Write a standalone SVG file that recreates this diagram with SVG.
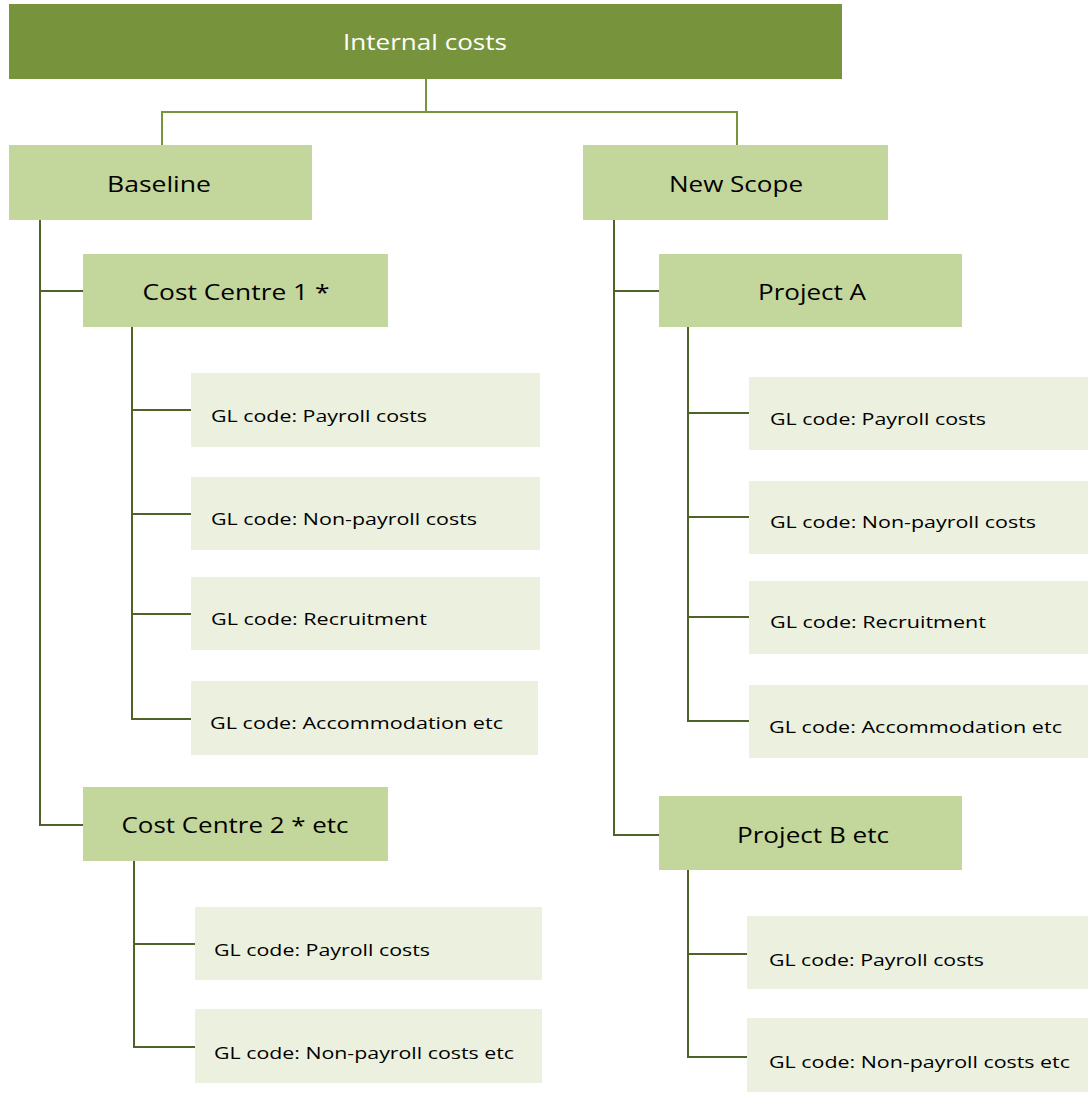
<svg xmlns="http://www.w3.org/2000/svg" width="1088" height="1093" viewBox="0 0 1088 1093">
<style>
.top{fill:#77933C}
.mid{fill:#C3D69B}
.leaf{fill:#EBF1DE}
.t1{font-family:"Open Sans","Liberation Sans",sans-serif;font-size:22px;fill:#ffffff;text-anchor:middle}
.t2{font-family:"Open Sans","Liberation Sans",sans-serif;font-size:22px;fill:#000000;text-anchor:middle}
.t3{font-family:"Open Sans","Liberation Sans",sans-serif;font-size:17px;fill:#000000}
.c1{fill:none;stroke:#77933C;stroke-width:2}
.c2{fill:none;stroke:#4F6228;stroke-width:2}
</style>
<rect width="1088" height="1093" fill="#ffffff"/>
<g id="connectors">
<path class="c1" d="M426 79 V112 H162 V145 M426 112 H737 V145"/>
<path class="c2" d="M40 220 V825 H83 M40 291 H83"/>
<path class="c2" d="M132 327 V719 H191 M132 410 H191 M132 514 H191 M132 614 H191"/>
<path class="c2" d="M134 861 V1047 H195 M134 944 H195"/>
<path class="c2" d="M614 220 V835 H659 M614 291 H659"/>
<path class="c2" d="M688 327 V721 H749 M688 413 H749 M688 517 H749 M688 617 H749"/>
<path class="c2" d="M688 870 V1057 H747 M688 954 H747"/>
</g>
<g id="internal-costs"><rect class="top" x="9" y="4" width="833" height="75"/><text class="t1" x="425" y="50" textLength="164" lengthAdjust="spacingAndGlyphs">Internal costs</text></g>
<g id="baseline"><rect class="mid" x="9" y="145" width="303" height="75"/><text class="t2" x="159" y="192" textLength="104" lengthAdjust="spacingAndGlyphs">Baseline</text></g>
<g id="new-scope"><rect class="mid" x="583" y="145" width="305" height="75"/><text class="t2" x="736" y="192" textLength="134" lengthAdjust="spacingAndGlyphs">New Scope</text></g>
<g id="cost-centre-1"><rect class="mid" x="83" y="254" width="305" height="73"/><text class="t2" x="236" y="300" textLength="187" lengthAdjust="spacingAndGlyphs">Cost Centre 1 *</text></g>
<g id="cost-centre-2"><rect class="mid" x="83" y="787" width="305" height="74"/><text class="t2" x="235" y="833" textLength="227" lengthAdjust="spacingAndGlyphs">Cost Centre 2 * etc</text></g>
<g id="project-a"><rect class="mid" x="659" y="254" width="303" height="73"/><text class="t2" x="812" y="300" textLength="108" lengthAdjust="spacingAndGlyphs">Project A</text></g>
<g id="project-b"><rect class="mid" x="659" y="796" width="303" height="74"/><text class="t2" x="813" y="843" textLength="152" lengthAdjust="spacingAndGlyphs">Project B etc</text></g>
<g id="cc1-payroll"><rect class="leaf" x="191" y="373" width="349" height="74"/><text class="t3" x="211" y="422" textLength="216" lengthAdjust="spacingAndGlyphs">GL code: Payroll costs</text></g>
<g id="cc1-nonpayroll"><rect class="leaf" x="191" y="477" width="349" height="73"/><text class="t3" x="211" y="525" textLength="266" lengthAdjust="spacingAndGlyphs">GL code: Non-payroll costs</text></g>
<g id="cc1-recruitment"><rect class="leaf" x="191" y="577" width="349" height="73"/><text class="t3" x="211" y="625" textLength="216" lengthAdjust="spacingAndGlyphs">GL code: Recruitment</text></g>
<g id="cc1-accommodation"><rect class="leaf" x="191" y="681" width="347" height="74"/><text class="t3" x="210" y="729" textLength="293" lengthAdjust="spacingAndGlyphs">GL code: Accommodation etc</text></g>
<g id="cc2-payroll"><rect class="leaf" x="195" y="907" width="347" height="73"/><text class="t3" x="214" y="956" textLength="216" lengthAdjust="spacingAndGlyphs">GL code: Payroll costs</text></g>
<g id="cc2-nonpayroll"><rect class="leaf" x="195" y="1009" width="347" height="74"/><text class="t3" x="214" y="1059" textLength="300" lengthAdjust="spacingAndGlyphs">GL code: Non-payroll costs etc</text></g>
<g id="pa-payroll"><rect class="leaf" x="749" y="377" width="339" height="73"/><text class="t3" x="770" y="425" textLength="216" lengthAdjust="spacingAndGlyphs">GL code: Payroll costs</text></g>
<g id="pa-nonpayroll"><rect class="leaf" x="749" y="481" width="339" height="73"/><text class="t3" x="770" y="528" textLength="266" lengthAdjust="spacingAndGlyphs">GL code: Non-payroll costs</text></g>
<g id="pa-recruitment"><rect class="leaf" x="749" y="581" width="339" height="73"/><text class="t3" x="770" y="628" textLength="216" lengthAdjust="spacingAndGlyphs">GL code: Recruitment</text></g>
<g id="pa-accommodation"><rect class="leaf" x="749" y="685" width="339" height="73"/><text class="t3" x="769" y="733" textLength="293" lengthAdjust="spacingAndGlyphs">GL code: Accommodation etc</text></g>
<g id="pb-payroll"><rect class="leaf" x="747" y="916" width="341" height="73"/><text class="t3" x="769" y="966" textLength="215" lengthAdjust="spacingAndGlyphs">GL code: Payroll costs</text></g>
<g id="pb-nonpayroll"><rect class="leaf" x="747" y="1018" width="341" height="74"/><text class="t3" x="769" y="1068" textLength="301" lengthAdjust="spacingAndGlyphs">GL code: Non-payroll costs etc</text></g>
</svg>
